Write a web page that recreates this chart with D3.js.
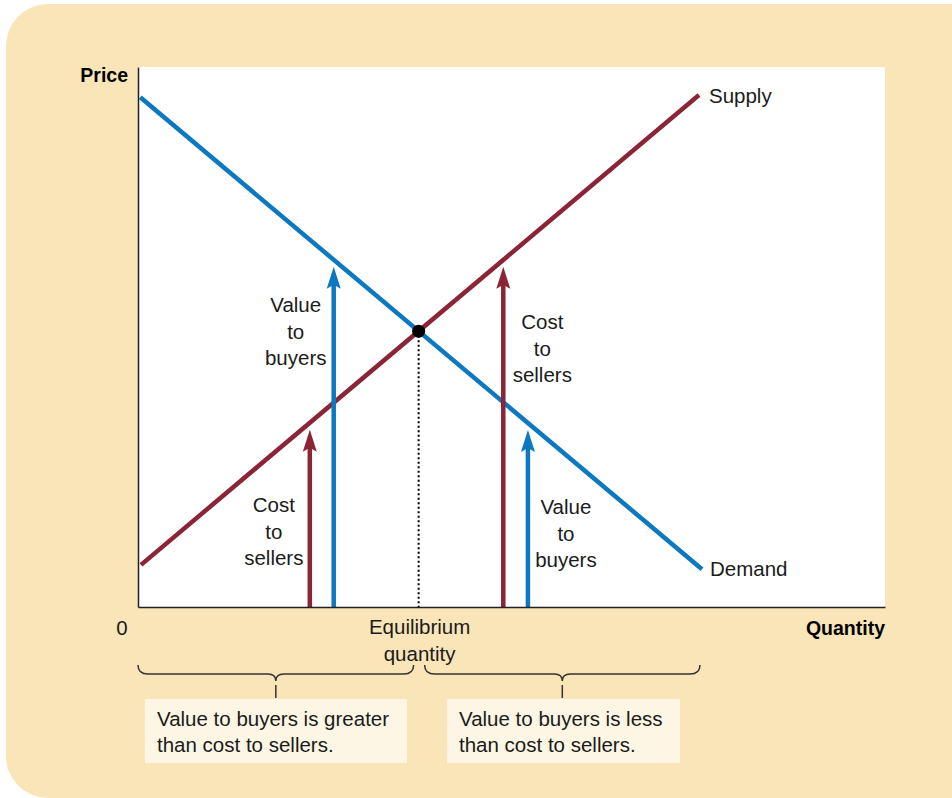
<!DOCTYPE html>
<html>
<head>
<meta charset="utf-8">
<script src="https://cdn.jsdelivr.net/npm/d3@7"></script>
<style>
  body { margin: 0; background: #fff; }
  svg { display: block; font-family: "Liberation Sans", Arial, sans-serif; }
</style>
</head>
<body>
<div id="chart"></div>
<script>
// curve end points, [quantity, price] on a 0-100 scale
const demandPts = [[0.3, 94.4], [75.5, 7.0]];
const supplyPts = [[0.4, 7.8], [75.1, 94.8]];

// quantities where the value / cost arrows stand
const arrowQs = [23.0, 26.2, 48.9, 52.2];
const arrowSeries = ['supply', 'demand', 'supply', 'demand'];

const arrowLabels = [
  ['Cost', 'to', 'sellers'],
  ['Value', 'to', 'buyers'],
  ['Cost', 'to', 'sellers'],
  ['Value', 'to', 'buyers']
];
const curveLabels = ['Supply', 'Demand'];
const axisLabels = ['Price', 'Quantity', '0'];
const eqLabel = ['Equilibrium', 'quantity'];
const boxTexts = [
  ['Value to buyers is greater', 'than cost to sellers.'],
  ['Value to buyers is less', 'than cost to sellers.']
];

const W = 952, H = 798;
const margin = {top: 67, right: 67, bottom: 191, left: 138},
  width = W - margin.left - margin.right,
  height = H - margin.top - margin.bottom;

const blue = '#0b78c1', red = '#8b2434', ink = '#1b1b1b';
const fs = 20.5;

const svg = d3.select('#chart').append('svg')
  .attr('width', W)
  .attr('height', H);

// tan panel
svg.append('rect')
  .attr('x', 6).attr('y', 4)
  .attr('width', 990).attr('height', 794)
  .attr('rx', 42)
  .attr('fill', '#f9e5b8');

const x = d3.scaleLinear().domain([0, 100]).range([0, width]);
const y = d3.scaleLinear().domain([0, 100]).range([height, 0]);

const chart = svg.append('g')
  .attr('transform', 'translate(' + margin.left + ',' + margin.top + ')');

chart.append('rect')
  .attr('width', width).attr('height', height)
  .attr('fill', '#fff');

function lineFn(pts) {
  const [[q0, p0], [q1, p1]] = pts;
  return q => p0 + (p1 - p0) * (q - q0) / (q1 - q0);
}
const demand = lineFn(demandPts), supply = lineFn(supplyPts);
const curves = {demand: demand, supply: supply};

// equilibrium
const dS = (demandPts[1][1] - demandPts[0][1]) / (demandPts[1][0] - demandPts[0][0]);
const sS = (supplyPts[1][1] - supplyPts[0][1]) / (supplyPts[1][0] - supplyPts[0][0]);
const eqQ = (supply(0) - demand(0)) / (dS - sS);
const eqP = demand(eqQ);

// dotted drop line
chart.append('line')
  .attr('x1', x(eqQ)).attr('x2', x(eqQ))
  .attr('y1', y(eqP)).attr('y2', height)
  .attr('stroke', '#000')
  .attr('stroke-width', 2)
  .attr('stroke-dasharray', '2,2.5');

const line = d3.line().x(d => x(d[0])).y(d => y(d[1]));

chart.append('path').datum(demandPts)
  .attr('d', line)
  .attr('fill', 'none').attr('stroke', blue).attr('stroke-width', 4.5);
chart.append('path').datum(supplyPts)
  .attr('d', line)
  .attr('fill', 'none').attr('stroke', red).attr('stroke-width', 4.5);

chart.append('circle')
  .attr('cx', x(eqQ)).attr('cy', y(eqP)).attr('r', 6.5)
  .attr('fill', '#000');

// arrows
arrowQs.forEach((q, i) => {
  const col = arrowSeries[i] === 'supply' ? red : blue;
  const tip = y(curves[arrowSeries[i]](q)) + 7;
  const ax = x(q);
  chart.append('line')
    .attr('x1', ax).attr('x2', ax)
    .attr('y1', height).attr('y2', tip + 16)
    .attr('stroke', col).attr('stroke-width', 4.5);
  chart.append('path')
    .attr('d', 'M' + ax + ',' + tip + ' L' + (ax - 7) + ',' + (tip + 22) +
      ' L' + ax + ',' + (tip + 18) + ' L' + (ax + 7) + ',' + (tip + 22) + 'Z')
    .attr('fill', col);
});

// axes: no ticks, just the lines
chart.append('g')
  .attr('transform', 'translate(0,' + height + ')')
  .call(d3.axisBottom(x).tickValues([]).tickSizeOuter(0))
  .select('.domain').attr('stroke', '#222').attr('stroke-width', 1.5);
chart.append('g')
  .call(d3.axisLeft(y).tickValues([]).tickSizeOuter(0))
  .select('.domain').attr('stroke', '#222').attr('stroke-width', 1.5);

function multiText(g, lines, cx, baseline, step, anchor) {
  const t = g.append('text')
    .attr('x', cx).attr('y', baseline)
    .attr('text-anchor', anchor || 'middle')
    .attr('font-size', fs)
    .attr('fill', ink);
  lines.forEach((s, k) => {
    t.append('tspan').attr('x', cx).attr('y', baseline + k * step).text(s);
  });
  return t;
}

// arrow labels (placed beside each arrow)
const labelPos = [
  [x(arrowQs[0]) - 36, 512],
  [x(arrowQs[1]) - 38, 312],
  [x(arrowQs[2]) + 39, 329],
  [x(arrowQs[3]) + 38, 514]
];
arrowLabels.forEach((lines, i) => {
  multiText(svg, lines, margin.left + labelPos[i][0], labelPos[i][1], 26.5);
});

// curve labels
svg.append('text')
  .attr('x', margin.left + x(supplyPts[1][0]) + 10)
  .attr('y', margin.top + y(supplyPts[1][1]) + 8)
  .attr('font-size', fs).attr('fill', ink)
  .text(curveLabels[0]);
svg.append('text')
  .attr('x', margin.left + x(demandPts[1][0]) + 8)
  .attr('y', margin.top + y(demandPts[1][1]) + 7)
  .attr('font-size', fs).attr('fill', ink)
  .text(curveLabels[1]);

// axis labels
svg.append('text')
  .attr('x', 128).attr('y', 82)
  .attr('text-anchor', 'end')
  .attr('font-size', 19.5).attr('font-weight', 'bold').attr('fill', '#000')
  .text(axisLabels[0]);
svg.append('text')
  .attr('x', margin.left + width).attr('y', 635)
  .attr('text-anchor', 'end')
  .attr('font-size', 19.5).attr('font-weight', 'bold').attr('fill', '#000')
  .text(axisLabels[1]);
svg.append('text')
  .attr('x', 122).attr('y', 635)
  .attr('text-anchor', 'middle')
  .attr('font-size', fs).attr('fill', ink)
  .text(axisLabels[2]);

multiText(svg, eqLabel, margin.left + x(eqQ) + 1, 634, 26.5);

// braces
function brace(x0, x1) {
  const xm = (x0 + x1) / 2, yt = 665, yh = 674, yc = 681;
  return 'M' + x0 + ',' + yt +
    ' Q' + x0 + ',' + yh + ' ' + (x0 + 10) + ',' + yh +
    ' L' + (xm - 8) + ',' + yh +
    ' Q' + xm + ',' + yh + ' ' + xm + ',' + yc +
    ' Q' + xm + ',' + yh + ' ' + (xm + 8) + ',' + yh +
    ' L' + (x1 - 10) + ',' + yh +
    ' Q' + x1 + ',' + yh + ' ' + x1 + ',' + yt +
    ' M' + xm + ',' + (yc + 4) + ' L' + xm + ',' + 698;
}
const braceSpans = [
  [margin.left + x(0), margin.left + x(eqQ) - 5],
  [margin.left + x(eqQ) + 6, margin.left + x(demandPts[1][0]) - 2]
];
braceSpans.forEach(s => {
  svg.append('path')
    .attr('d', brace(s[0], s[1]))
    .attr('fill', 'none').attr('stroke', '#333').attr('stroke-width', 1.5);
});

// note boxes
const boxes = [[145, 262], [447, 233]];
boxes.forEach((b, i) => {
  svg.append('rect')
    .attr('x', b[0]).attr('y', 699)
    .attr('width', b[1]).attr('height', 64)
    .attr('fill', '#fdf6e4');
  multiText(svg, boxTexts[i], b[0] + 12, 726, 26, 'start');
});
</script>
</body>
</html>
